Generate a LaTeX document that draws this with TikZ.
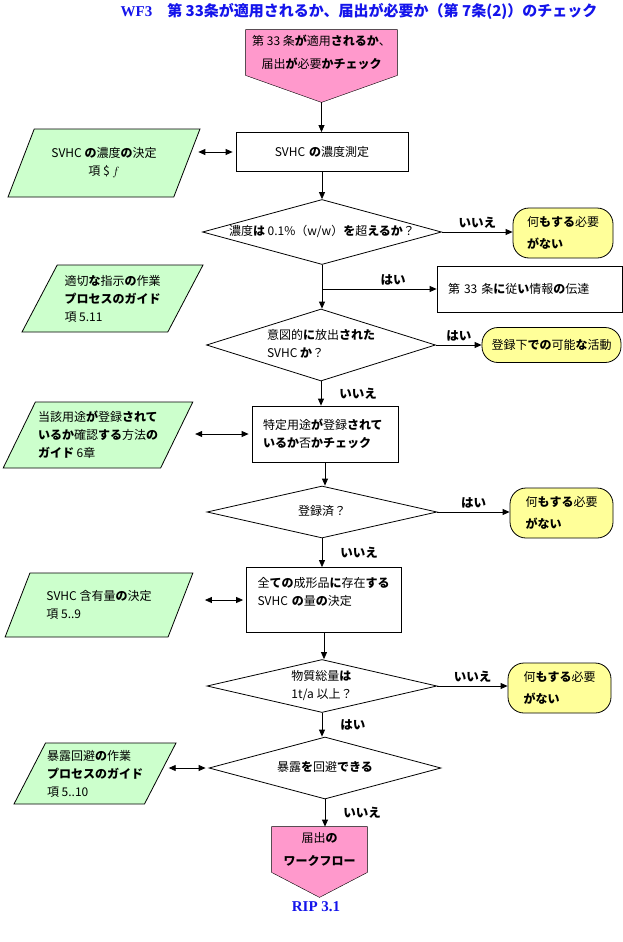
\documentclass[tikz,border=0pt]{standalone}
\usepackage{fontspec}
\setmainfont{Noto Sans CJK JP}
\newfontfamily\latinfont{Liberation Serif}
\usetikzlibrary{shapes.geometric,arrows.meta,calc,backgrounds}

\definecolor{offpink}{RGB}{255,153,204}
\definecolor{guidegreen}{RGB}{204,255,204}
\definecolor{endyellow}{RGB}{255,255,153}
\definecolor{titleblue}{RGB}{20,20,235}

\newcommand{\bk}[1]{\textbf{#1}}
\newcommand{\dtext}[1]{\makebox[0pt]{\begin{tabular}{@{}l@{}}#1\end{tabular}}}

\tikzset{
  txt/.style={font=\fontsize{12}{18}\selectfont},
  process/.style={txt, draw, rectangle, inner ysep=0pt, inner xsep=11pt},
  decision/.style={txt, draw, diamond, inner sep=0pt},
  terminal/.style={txt, draw, fill=endyellow, rectangle, rounded corners=16pt, inner sep=0pt},
  guide/.style={txt, draw, fill=guidegreen, trapezium, trapezium left angle=57,
    trapezium right angle=123, trapezium stretches=true, inner sep=0pt},
  offpage/.style={draw, fill=offpink},
  flow/.style={-{Triangle[length=7pt,width=6pt]}},
  link/.style={{Triangle[length=7pt,width=6pt]}-{Triangle[length=7pt,width=6pt]}, shorten >=3pt},
  lab/.style={font=\fontsize{12.5}{14}\selectfont\bfseries, inner sep=3pt}
}

\begin{document}
\begin{tikzpicture}[x=1pt, y=-1pt, line width=0.8pt]
    \useasboundingbox (0,0) rectangle (623,942);

    \node[font=\fontsize{15}{17}\selectfont\bfseries, text=titleblue] (title) at (359,11)
      {{\latinfont\bfseries WF3}\quad 第 33条が適用されるか、届出が必要か（第 7条(2)）のチェック};

    \node[txt, minimum width=151pt, minimum height=45pt, inner sep=0pt, align=center] (start) at (321.5,52.5)
      {第 33 条\bk{が}適用\bk{されるか}、\\[5pt]届出\bk{が}必要\bk{かチェック}};
    \coordinate (starttip) at ($(start.south)+(0,27)$);
    \node[txt, minimum width=95pt, minimum height=45pt, inner sep=0pt, align=center] (notify) at (319.5,849.5)
      {届出\bk{の}\\[5pt]\bk{ワークフロー}};
    \begin{scope}[on background layer]
      \filldraw[offpage] (start.north west) -- (start.north east) -- (start.south east)
        -- (starttip) -- (start.south west) -- cycle;
      \filldraw[offpage] (notify.north west) -- (notify.north east) -- (notify.south east)
        -- ($(notify.south)+(0,25)$) -- (notify.south west) -- cycle;
    \end{scope}

    \def \Process {
      conc/322/152/172/39/center/{SVHC \bk{の}濃度測定},
      info/529.5/289/185/46/left/{第 33 条\bk{に}従\bk{い}情報\bk{の}伝達},
      regchk/325/434/146/56/left/{特定用途\bk{が}登録\bk{されて}\\\bk{いるか}否\bk{かチェック}},
      amount/324/600/155/65/left/{全\bk{ての}成形品\bk{に}存在\bk{する}\\SVHC \bk{の}量\bk{の}決定\\\mbox{}}}
    \def \Decisions {
      d1/322/232/239/65/{濃度\bk{は} 0.1\%（w/w）\bk{を}超\bk{えるか}？},
      d2/321/345/229/72/{意図的\bk{に}放出\bk{された}\\SVHC \bk{か}？},
      d3/322/512/230/52/{登録済？},
      d4/322/686/230/53/{物質総量\bk{は}\\1t/a 以上？},
      d5/325/768/232/62/{暴露\bk{を}回避\bk{できる}}}
    \def \Ends {
      no1/563/233/100/50/{何\bk{もする}必要\\[4pt]\bk{がない}},
      act/551.5/345/139/35/{登録下\bk{での}可能\bk{な}活動},
      no2/561.5/513/103/50/{何\bk{もする}必要\\[4pt]\bk{がない}},
      no3/559.5/688/103/50/{何\bk{もする}必要\\[4pt]\bk{がない}}}
    \def \Guides {
      g1/104/163/192/68/center/{SVHC \bk{の}濃度\bk{の}決定\\項 \$ $f$},
      g2/112.5/298.5/181/67/left/{適切\bk{な}指示\bk{の}作業\\\bk{プロセスのガイド}\\項 5.11},
      g3/98/435/190/66/left/{当該用途\bk{が}登録\bk{されて}\\\bk{いるか}確認\bk{する}方法\bk{の}\\\bk{ガイド} 6章},
      g4/99/605/188/64/left/{SVHC 含有量\bk{の}決定\\項 5..9},
      g5/95/773.5/162/61/left/{暴露回避\bk{の}作業\\\bk{プロセスのガイド}\\項 5..10}}

    \foreach \id / \x / \y / \w / \h / \al / \t in \Process {
      \pgfmathsetmacro \tw {\w-22}
      \node[process, minimum width=\w pt, minimum height=\h pt, text width=\tw pt, align=\al] (\id) at (\x,\y) {\t};
    }
    \foreach \id / \x / \y / \w / \h / \t in \Decisions {
      \node[decision, minimum width=\w pt, minimum height=\h pt] (\id) at (\x,\y) {\dtext{\t}};
    }
    \foreach \id / \x / \y / \w / \h / \t in \Ends {
      \node[terminal, minimum width=\w pt, minimum height=\h pt, align=left] (\id) at (\x,\y) {\t};
    }
    \foreach \id / \x / \y / \w / \h / \al / \t in \Guides {
      \node[guide, minimum width=\w pt, minimum height=\h pt, align=\al] (\id) at (\x,\y) {\t};
    }

    \def \Links {starttip/conc, conc/d1, d1/d2, regchk/d3, amount/d4}
    \def \Downs {
      d2/regchk/いいえ,
      d3/amount/いいえ,
      d4/d5/はい,
      d5/notify/いいえ}
    \def \Rights {
      d1/no1/いいえ,
      d2/act/はい,
      d3/no2/はい,
      d4/no3/いいえ}
    \def \Refs {g1/conc/11, g3/regchk/18, g4/amount/24, g5/d5/8}

    \foreach \a / \b in \Links {
      \draw[flow] (\a.south) -- (\a.south |- \b.north);
    }
    \foreach \a / \b / \w in \Downs {
      \draw[flow] (\a.south) -- (\a.south |- \b.north) node[midway, right, lab, xshift=15pt] {\w};
    }
    \foreach \a / \b / \w in \Rights {
      \draw[flow] (\a.east) -- (\a.east -| \b.west) node[midway, above, lab] {\w};
    }
    \draw[flow] (d1.south |- info.west) -- (info.west) node[pos=0.62, above, lab] {はい};
    \foreach \g / \t / \s in \Refs {
      \draw[link, shorten <=\s pt] (\t.west -| \g.east) -- (\t.west);
    }

    \node[font=\fontsize{15}{17}\latinfont\bfseries, text=titleblue] (rip) at (316,907) {RIP 3.1};
  \end{tikzpicture}
\end{document}
